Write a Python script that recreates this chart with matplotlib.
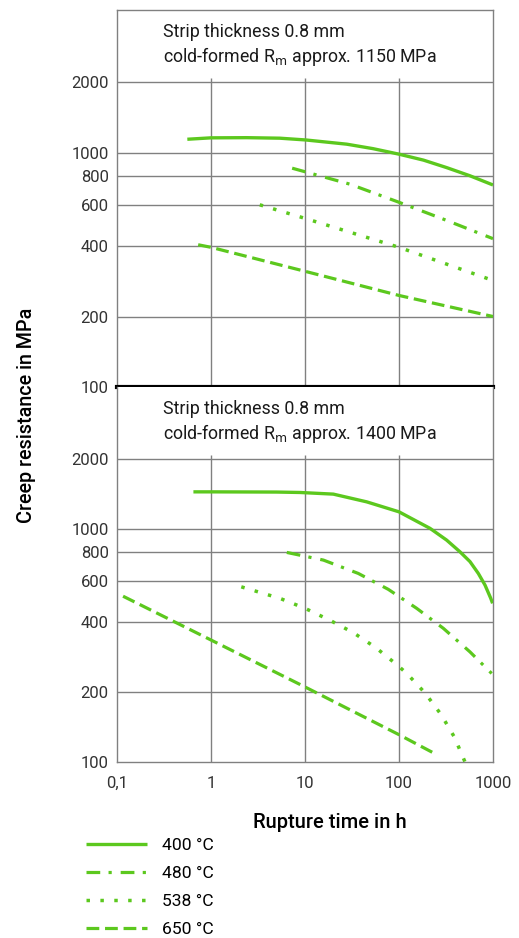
import numpy as np
import matplotlib
matplotlib.use("Agg")
import matplotlib.pyplot as plt
from matplotlib.lines import Line2D

plt.rcParams['font.family'] = ['Roboto', 'DejaVu Sans']

# temperatures / legend labels
temps = ["400 °C", "480 °C", "538 °C", "650 °C"]

# top panel: cold-formed Rm approx. 1150 MPa
top_400_t = [0.56, 1, 2.4, 5.4, 10.2, 27.8, 53, 100, 182, 321, 569, 1000]
top_400_s = [1143, 1159, 1161, 1155, 1135, 1089, 1042, 987, 931, 865, 798, 729]
top_480_t = [7.3, 30, 100, 300, 1000]
top_480_s = [860, 735, 615, 520, 430]
top_538_t = [3.3, 10, 100, 1000]
top_538_s = [600, 525, 395, 285]
top_650_t = [0.73, 1, 10, 100, 1000]
top_650_s = [405, 395, 312, 246, 200]

# bottom panel: cold-formed Rm approx. 1400 MPa
bot_400_t = [0.65, 1, 5, 8.85, 20, 45.3, 100, 214, 321, 445, 569, 698, 822, 945, 990]
bot_400_s = [1445, 1445, 1442, 1436, 1413, 1309, 1186, 1007, 897, 799, 725, 645, 575, 505, 480]
bot_480_t = [6.4, 15.7, 36.9, 77, 154, 296, 569, 968]
bot_480_s = [794, 736, 645, 551, 457, 375, 297, 240]
bot_538_t = [2.1, 5.42, 10, 18.4, 32.7, 56.5, 94.5, 121, 189, 280, 388, 504]
bot_538_s = [565, 504, 457, 406, 359, 310, 262, 240, 198, 160, 128, 100]
bot_650_t = [0.116, 1, 10, 100, 247]
bot_650_s = [515, 334, 210, 131, 108]

headers = ["Strip thickness 0.8 mm\ncold-formed R$_\\mathrm{m}$ approx. 1150 MPa",
           "Strip thickness 0.8 mm\ncold-formed R$_\\mathrm{m}$ approx. 1400 MPa"]

yticks = [100, 200, 400, 600, 800, 1000, 2000]
xticks = [0.1, 1, 10, 100, 1000]
xlabels = ["0,1", "1", "10", "100", "1000"]

green = '#5cc81e'
grid_c = '#808080'
styles = [
    dict(ls='-', lw=2.4),
    dict(ls=(0, (4.3, 2.6, 1.0, 2.8)), lw=2.3),
    dict(ls=(0, (1.0, 3.0)), lw=2.5),
    dict(ls=(0, (4.0, 1.8)), lw=2.3),
]

fig = plt.figure(figsize=(5.19, 9.38), dpi=100)
ax_top = fig.add_axes([117 / 519, (938 - 387) / 938, 376 / 519, 377 / 938])
ax_bot = fig.add_axes([117 / 519, (938 - 762) / 938, 376 / 519, 375 / 938])

ymax = 2000 * 10 ** (72 / 233)

panels = [
    (ax_top, [(top_400_t, top_400_s), (top_480_t, top_480_s),
              (top_538_t, top_538_s), (top_650_t, top_650_s)]),
    (ax_bot, [(bot_400_t, bot_400_s), (bot_480_t, bot_480_s),
              (bot_538_t, bot_538_s), (bot_650_t, bot_650_s)]),
]

for i, (ax, series) in enumerate(panels):
    ax.set_xscale('log')
    ax.set_yscale('log')
    ax.set_xlim(0.1, 1000)
    ax.set_ylim(100, ymax)
    # grid
    for y in yticks[1:]:
        ax.axhline(y, color=grid_c, lw=1.0, zorder=1)
    ax.vlines(xticks[1:-1], 100, 2080, color=grid_c, lw=1.0, zorder=1)
    for (t, s), st in zip(series, styles):
        ax.plot(t, s, color=green, solid_capstyle='butt', dash_capstyle='butt',
                solid_joinstyle='round', zorder=3, **st)
    ax.set_yticks(yticks)
    ax.set_yticklabels([str(v) for v in yticks], fontsize=12, color='#333333')
    ax.yaxis.set_minor_locator(matplotlib.ticker.NullLocator())
    ax.xaxis.set_minor_locator(matplotlib.ticker.NullLocator())
    ax.set_xticks(xticks)
    ax.tick_params(length=0, pad=6)
    for sp in ax.spines.values():
        sp.set_color(grid_c)
        sp.set_linewidth(1.0)
    ax.text(0.122, 0.905, headers[i], transform=ax.transAxes, fontsize=12.8,
            va='center', ha='left', linespacing=1.25, color='#1a1a1a')

ax_top.set_xticklabels([])
ax_top.spines['bottom'].set_color('black')
ax_top.spines['bottom'].set_linewidth(3)
ax_top.spines['bottom'].set_zorder(5)
ax_bot.spines['top'].set_visible(False)
ax_bot.set_xticklabels(xlabels, fontsize=12, color='#333333')
ax_bot.tick_params(axis='x', pad=10)

fig.text(27 / 519, 1 - 415 / 938, "Creep resistance in MPa", rotation=90,
         ha='center', va='center', fontsize=14.2, fontweight='medium')
fig.text(330 / 519, 1 - 822 / 938, "Rupture time in h", ha='center',
         va='center', fontsize=14.5, fontweight='medium')

handles = [Line2D([], [], color=green, solid_capstyle='butt',
                  dash_capstyle='butt', **st) for st in styles]
fig.legend(handles, temps, loc='upper left',
           bbox_to_anchor=(79 / 519, 1 - 831 / 938), frameon=False,
           fontsize=12.6, handlelength=3.5, handletextpad=0.85,
           labelspacing=0.72, borderaxespad=0, borderpad=0.4)

fig.savefig('out.png', dpi=100)
